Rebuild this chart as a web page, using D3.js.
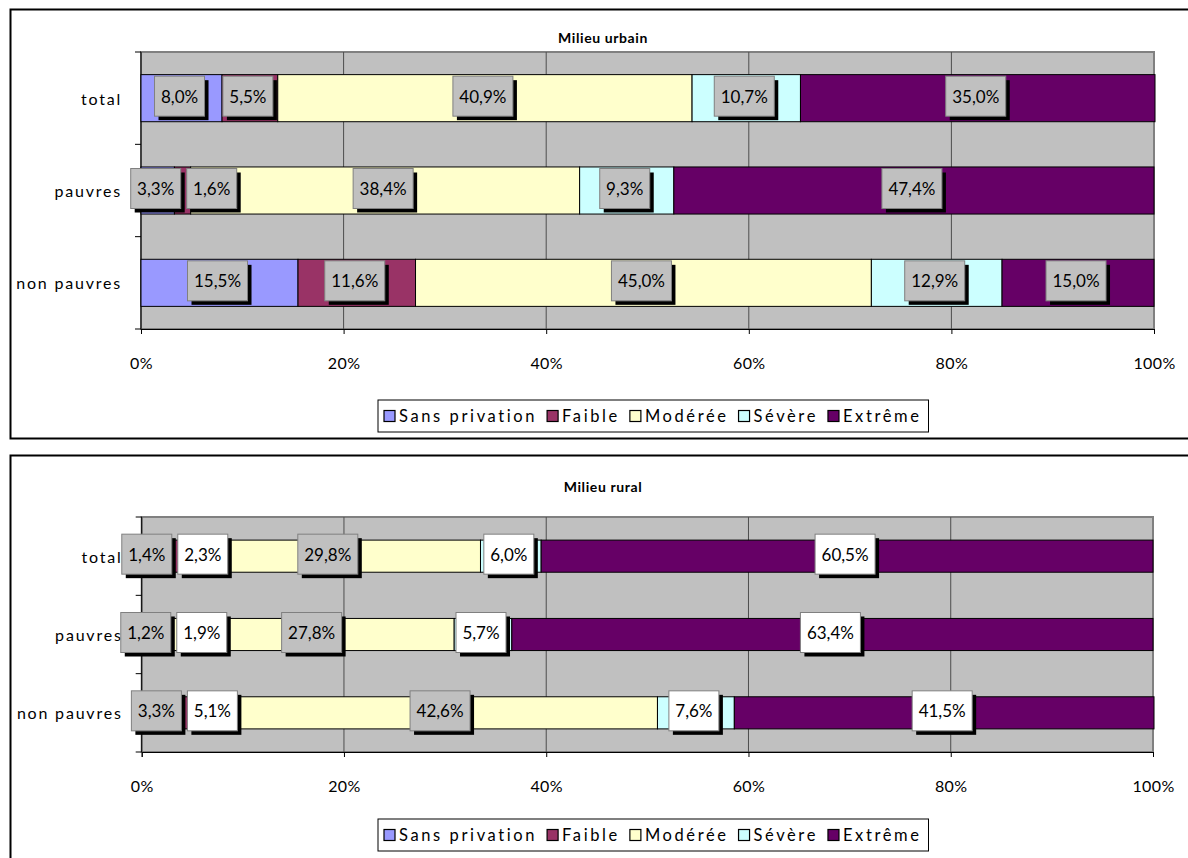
<!DOCTYPE html>
<html>
<head>
<meta charset="utf-8">
<script src="https://cdn.jsdelivr.net/npm/d3@7"></script>
<style>
  body { margin: 0; background: #fff; }
  text { font-family: Lato, "Open Sans", sans-serif; }
</style>
</head>
<body>
<div id="chart"></div>
<script>
// categories and series
const categories = ["total", "pauvres", "non pauvres"];
const series = ["Sans privation", "Faible", "Modérée", "Sévère", "Extrême"];
const xTicks = [0, 20, 40, 60, 80, 100];

// Milieu urbain (%), one array per category, in series order
const urbainTotal = [8.0, 5.5, 40.9, 10.7, 35.0];
const urbainPauvres = [3.3, 1.6, 38.4, 9.3, 47.4];
const urbainNonPauvres = [15.5, 11.6, 45.0, 12.9, 15.0];

// Milieu rural (%)
const ruralTotal = [1.4, 2.3, 29.8, 6.0, 60.5];
const ruralPauvres = [1.2, 1.9, 27.8, 5.7, 63.4];
const ruralNonPauvres = [3.3, 5.1, 42.6, 7.6, 41.5];

const colors = ["#9999ff", "#993366", "#ffffcc", "#ccffff", "#660066"];

const width = 1188, height = 858;

const svg = d3.select("#chart").append("svg")
  .attr("width", width)
  .attr("height", height);

const fmt = v => d3.format(".1f")(v).replace(".", ",") + "%";

function drawPanel(p) {
  const g = svg.append("g");

  // outer frame
  g.append("rect")
    .attr("x", 10.5).attr("y", p.frameY)
    .attr("width", 1200).attr("height", p.frameH)
    .attr("fill", "#fff")
    .attr("stroke", "#000")
    .attr("stroke-width", 2);

  g.append("text")
    .attr("x", 603).attr("y", p.titleY)
    .attr("text-anchor", "middle")
    .attr("dominant-baseline", "central")
    .style("font-size", "14px")
    .style("font-weight", "bold")
    .style("letter-spacing", "0.6px")
    .text(p.title);

  const x = d3.scaleLinear().domain([0, 100]).range([p.x0, p.x1]);
  const y = d3.scaleBand().domain(categories).range([p.y0, p.y1])
    .paddingInner(p.pad).paddingOuter(p.pad / 2);

  // plot background
  g.append("rect")
    .attr("x", p.x0).attr("y", p.y0)
    .attr("width", p.x1 - p.x0).attr("height", p.y1 - p.y0)
    .attr("fill", "#c0c0c0")
    .attr("stroke", "#808080")
    .attr("stroke-width", 2);

  // vertical gridlines
  g.selectAll(".grid").data(xTicks.slice(1, -1)).enter().append("line")
    .attr("x1", d => x(d)).attr("x2", d => x(d))
    .attr("y1", p.y0).attr("y2", p.y1)
    .attr("stroke", "#4d4d4d")
    .attr("stroke-width", 1);

  // x axis
  const xAxis = g.append("g")
    .attr("transform", "translate(0," + p.y1 + ")")
    .call(d3.axisBottom(x).tickValues(xTicks).tickSize(5).tickFormat(d => d + "%"));
  xAxis.select(".domain").attr("stroke", "#000");
  xAxis.selectAll(".tick line").attr("stroke", "#000");
  xAxis.selectAll("text")
    .attr("y", p.axisY - p.y1)
    .attr("dy", "0.35em")
    .attr("fill", "#000")
    .style("font-size", "16px")
    .style("letter-spacing", "0.4px")
    .style("font-family", "Lato, sans-serif");

  // y axis line and tick marks at band boundaries
  g.append("line")
    .attr("x1", p.x0).attr("x2", p.x0).attr("y1", p.y0).attr("y2", p.y1)
    .attr("stroke", "#000");
  const step = y.step();
  const bounds = d3.range(categories.length + 1).map(i => p.y0 + i * step);
  g.selectAll(".ytick").data(bounds).enter().append("line")
    .attr("x1", p.x0 - 6).attr("x2", p.x0)
    .attr("y1", d => d).attr("y2", d => d)
    .attr("stroke", "#000");

  g.selectAll(".cat").data(categories).enter().append("text")
    .attr("x", p.x0 - 19)
    .attr("y", d => y(d) + y.bandwidth() / 2)
    .attr("text-anchor", "end")
    .attr("dominant-baseline", "central")
    .style("font-size", "16px")
    .style("letter-spacing", "1.8px")
    .text(d => d);

  // stacked segments
  const rows = categories.map((c, i) => {
    let acc = 0;
    return p.rows[i].map((v, j) => {
      const s = { cat: c, j: j, v: v, x0: acc, x1: acc + v };
      acc += v;
      return s;
    });
  });

  rows.forEach(row => {
    g.selectAll(null).data(row).enter().append("rect")
      .attr("x", d => x(d.x0))
      .attr("y", d => y(d.cat))
      .attr("width", d => x(d.x1) - x(d.x0))
      .attr("height", y.bandwidth())
      .attr("fill", d => colors[d.j])
      .attr("stroke", "#000")
      .attr("stroke-width", 1);
  });

  // data labels (boxes with black shadow)
  rows.forEach(row => {
    let prevRight = -Infinity;
    row.forEach(d => {
      const lg = g.append("g");
      const t = lg.append("text")
        .attr("text-anchor", "middle")
        .attr("dominant-baseline", "central")
        .style("font-size", "17px")
        .text(fmt(d.v));
      const tw = t.node().getComputedTextLength();
      const bw = Math.round(tw + 13), bh = 40;
      const cx = x((d.x0 + d.x1) / 2) - 2;
      let left = cx - bw / 2;
      if (left < prevRight + 4) left = prevRight + 6;
      prevRight = left + bw;
      const top = y(d.cat) + y.bandwidth() / 2 - 2 - bh / 2;
      lg.insert("rect", "text")
        .attr("x", left + 4).attr("y", top + 4)
        .attr("width", bw).attr("height", bh)
        .attr("fill", "#000");
      lg.insert("rect", "text")
        .attr("x", left).attr("y", top)
        .attr("width", bw).attr("height", bh)
        .attr("fill", p.labelFill[d.j])
        .attr("stroke", "#808080")
        .attr("stroke-width", 1);
      t.attr("x", left + bw / 2).attr("y", top + bh / 2);
    });
  });

  // legend
  const leg = g.append("g");
  let lx = p.legendX + 6;
  series.forEach((s, j) => {
    leg.append("rect")
      .attr("x", lx).attr("y", p.legendY + 10.5)
      .attr("width", 11).attr("height", 11)
      .attr("fill", colors[j])
      .attr("stroke", "#000")
      .attr("stroke-width", 1.2);
    const t = leg.append("text")
      .attr("x", lx + 15).attr("y", p.legendY + 16)
      .attr("dominant-baseline", "central")
      .style("font-size", "16.5px")
      .style("letter-spacing", "2.6px")
      .text(s);
    lx += 15 + t.node().getComputedTextLength() + 10;
  });
  leg.insert("rect", ":first-child")
    .attr("x", p.legendX).attr("y", p.legendY)
    .attr("width", lx - p.legendX - 3).attr("height", 32)
    .attr("fill", "#fff")
    .attr("stroke", "#000")
    .attr("stroke-width", 1);
}

drawPanel({
  title: "Milieu urbain",
  rows: [urbainTotal, urbainPauvres, urbainNonPauvres],
  frameY: 9.5, frameH: 429,
  x0: 141, x1: 1154, y0: 52, y1: 329, pad: 0.49,
  titleY: 37, axisY: 363,
  legendX: 378, legendY: 400,
  labelFill: ["#c0c0c0", "#c0c0c0", "#c0c0c0", "#c0c0c0", "#c0c0c0"]
});

drawPanel({
  title: "Milieu rural",
  rows: [ruralTotal, ruralPauvres, ruralNonPauvres],
  frameY: 455.5, frameH: 420,
  x0: 141.7, x1: 1153, y0: 517, y1: 752, pad: 0.59,
  titleY: 486, axisY: 786,
  legendX: 378, legendY: 819,
  labelFill: ["#c0c0c0", "#ffffff", "#c0c0c0", "#ffffff", "#ffffff"]
});
</script>
</body>
</html>
